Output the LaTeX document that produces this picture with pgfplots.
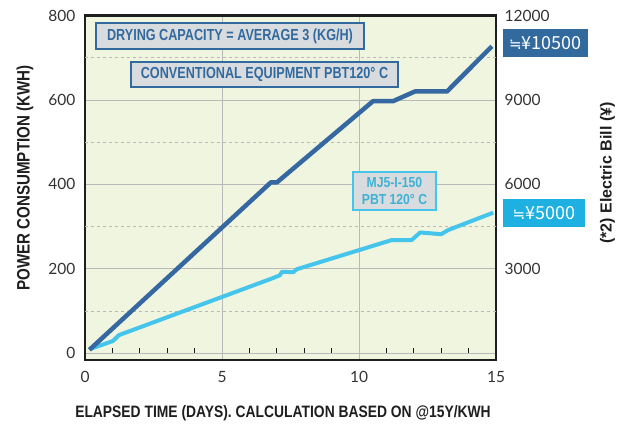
\documentclass[border=0pt]{standalone}
\usepackage{pgfplots}
\pgfplotsset{compat=1.18}
\usepackage{fontspec}
\setmainfont{Liberation Sans}
\newfontfamily\condf{Liberation Sans}[FakeStretch=0.79]
\newfontfamily\condg{Liberation Sans}[FakeStretch=0.84]
\newfontfamily\tickf{Lato}
\newfontfamily\jpf{Noto Sans CJK JP}
\newfontfamily\dvf{DejaVu Sans}
\definecolor{bg}{HTML}{F0F5E0}
\definecolor{darkb}{HTML}{3568A0}
\definecolor{lightb}{HTML}{45C5EC}
\definecolor{boxdark}{HTML}{336A9E}
\definecolor{boxlight}{HTML}{1DB0E0}
\definecolor{boxfill}{HTML}{D9DCDF}
\definecolor{gridc}{HTML}{B9B9B9}
\definecolor{txt}{HTML}{333333}
\definecolor{framec}{HTML}{1E1E1E}
\begin{document}
\begin{tikzpicture}[x=1pt,y=1pt]
\useasboundingbox (0,0) rectangle (626,423);
\begin{axis}[at={(85pt,63pt)}, anchor=south west, scale only axis,
  width=411pt, height=344.5pt,
  xmin=0, xmax=15, ymin=-16, ymax=800,
  xtick={0,5,10,15}, ytick={0,200,400,600,800},
  minor xtick={1,2,3,4,6,7,8,9,11,12,13,14},
  xtick pos=bottom, ytick pos=left,
  major tick length=0pt, minor tick length=4.5pt,
  minor tick style={framec, line width=0.8pt, yshift=7.5pt},
  xmajorgrids, ymajorgrids,
  major grid style={gridc, line width=0.8pt},
  extra y ticks={100,300,500,700},
  extra y tick labels={},
  extra y tick style={grid=major, major grid style={gridc, line width=0.8pt, dash pattern=on 3pt off 3pt}},
  axis background/.style={fill=bg},
  axis line style={framec, line width=2.2pt},
  ticklabel style={font=\tickf\fontsize{15.5}{16}\selectfont, text=txt},
  /pgf/number format/assume math mode=true,
  yticklabel style={xshift=-6pt},
  xticklabel style={yshift=-8pt},
]
\addplot[lightb, line width=4pt, line join=round] coordinates {
 (0.18,10) (1.02,29) (1.24,43) (6.86,178) (7.12,185) (7.18,193) (7.6,192)
 (7.73,199) (11.19,268) (11.92,268) (12.23,286) (13.0,282) (13.26,292) (14.9,333)};
\addplot[darkb, line width=4.5pt, line join=round] coordinates {
 (0.16,8) (6.79,405) (7.01,405) (10.51,597) (11.24,597) (12.04,620) (13.21,620) (14.85,727)};
\end{axis}
\begin{axis}[at={(85pt,63pt)}, anchor=south west, scale only axis,
  width=411pt, height=344.5pt,
  xmin=0, xmax=15, ymin=-240, ymax=12000,
  axis x line=none, axis y line*=right,
  ytick={3000,6000,9000,12000},
  scaled y ticks=false,
  major tick length=0pt,
  axis line style={draw=none},
  ticklabel style={font=\tickf\fontsize{15.5}{16}\selectfont, text=txt},
  /pgf/number format/assume math mode=true,
  /pgf/number format/1000 sep={},
  yticklabel style={xshift=5pt},
]
\end{axis}
\node[draw=boxdark, line width=1.5pt, fill=boxfill, text=boxdark, minimum width=268pt, minimum height=26pt, inner sep=0pt, font=\condf\bfseries\fontsize{16}{16}\selectfont] at (230,387) {DRYING CAPACITY = AVERAGE 3 (KG/H)};
\node[draw=boxdark, line width=1.5pt, fill=boxfill, text=boxdark, minimum width=267pt, minimum height=25pt, inner sep=0pt, font=\condf\bfseries\fontsize{16}{16}\selectfont] at (264.5,348.5) {CONVENTIONAL EQUIPMENT PBT120° C};
\node[draw=lightb, line width=1.5pt, fill=boxfill, text=lightb!90!black, minimum width=83pt, minimum height=38pt, inner sep=0pt, align=center, font=\condg\bfseries\fontsize{14.5}{17}\selectfont] at (394.5,232) {MJ5-I-150\\PBT 120° C};
\node[fill=boxdark, text=white, minimum width=85pt, minimum height=28pt, inner sep=0pt, font=\jpf\fontsize{18}{18}\selectfont] at (545.5,380) {{\dvf\fontsize{15}{15}\selectfont ≒}¥10500};
\node[fill=boxlight, text=white, minimum width=82pt, minimum height=28pt, inner sep=0pt, font=\jpf\fontsize{18}{18}\selectfont] at (544,209.5) {{\dvf\fontsize{15}{15}\selectfont ≒}¥5000};
\node[rotate=90, text=framec, font=\condg\bfseries\fontsize{18}{18}\selectfont] at (25,245) {POWER CONSUMPTION (KWH)};
\node[text=framec, font=\condg\bfseries\fontsize{16.5}{16.5}\selectfont] at (283,10) {ELAPSED TIME (DAYS). CALCULATION BASED ON @15Y/KWH};
\node[rotate=90, text=framec, font=\bfseries\fontsize{16}{16}\selectfont] at (607.5,250) {(*2) Electric Bill (¥)};
\end{tikzpicture}
\end{document}
